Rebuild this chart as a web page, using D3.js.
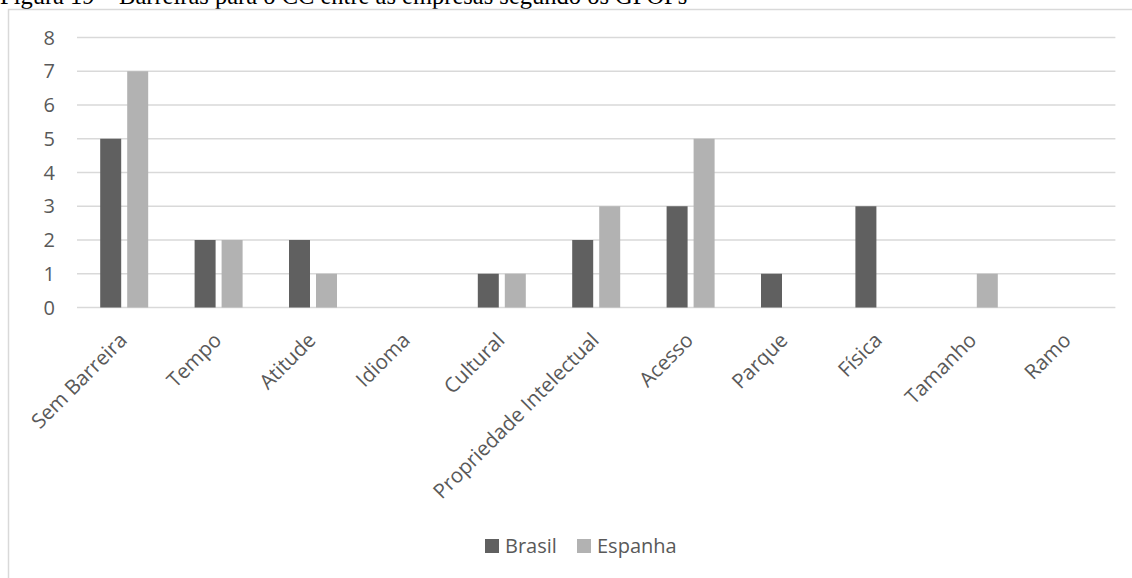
<!DOCTYPE html>
<html>
<head>
<meta charset="utf-8">
<script src="https://cdn.jsdelivr.net/npm/d3@7"></script>
<style>
  html, body { margin: 0; padding: 0; background: #fff; overflow: hidden; }
  svg { display: block; }
</style>
</head>
<body>
<svg id="chart" width="1132" height="578"></svg>
<script>
// Barreiras para o CC, por país
const categories = ["Sem Barreira", "Tempo", "Atitude", "Idioma", "Cultural",
  "Propriedade Intelectual", "Acesso", "Parque", "Física", "Tamanho", "Ramo"];
const brasil  = [5, 2, 2, 0, 1, 2, 3, 1, 3, 0, 0];
const espanha = [7, 2, 1, 0, 1, 3, 5, 0, 0, 1, 0];
const seriesNames = ["Brasil", "Espanha"];
const yTicks = [0, 1, 2, 3, 4, 5, 6, 7, 8];
const title = "Figura 19 – Barreiras para o CC entre as empresas segundo os GPOPs";

const colors = { Brasil: "#606060", Espanha: "#b2b2b2" };
const textColor = "#595959";
const gridColor = "#d9d9d9";
const font = "'Open Sans', 'DejaVu Sans', sans-serif";

const svg = d3.select("#chart");

// caption above the chart frame
svg.append("text")
  .attr("x", 0).attr("y", 4)
  .attr("font-family", "'Liberation Serif', 'Times New Roman', serif")
  .attr("font-size", 24.5)
  .attr("fill", "#000")
  .text(title);

// chart frame
svg.append("rect")
  .attr("x", 8.5).attr("y", 9.5)
  .attr("width", 1200).attr("height", 700)
  .attr("fill", "none")
  .attr("stroke", gridColor)
  .attr("stroke-width", 1.5);

const plot = { left: 77, right: 1115.4, top: 37.5, bottom: 307.5 };

const x = d3.scaleBand()
  .domain(categories)
  .range([plot.left, plot.right])
  .paddingInner(0).paddingOuter(0);

const y = d3.scaleLinear()
  .domain([0, 8])
  .range([plot.bottom, plot.top]);

const barW = 21, barGap = 6;
const xSeries = d3.scaleOrdinal()
  .domain(seriesNames)
  .range([-(barW + barGap / 2), barGap / 2]);

// gridlines
svg.append("g")
  .selectAll("line")
  .data(yTicks)
  .join("line")
  .attr("x1", plot.left).attr("x2", plot.right)
  .attr("y1", d => y(d)).attr("y2", d => y(d))
  .attr("stroke", gridColor)
  .attr("stroke-width", 1.5);

// y tick labels
svg.append("g")
  .selectAll("text")
  .data(yTicks)
  .join("text")
  .attr("x", 55)
  .attr("y", d => y(d))
  .attr("dy", "0.36em")
  .attr("text-anchor", "end")
  .attr("font-family", font)
  .attr("font-size", 20)
  .attr("fill", textColor)
  .text(d => d);

// bars
const rows = categories.map((c, i) => ({ c, Brasil: brasil[i], Espanha: espanha[i] }));
const groups = svg.append("g")
  .selectAll("g")
  .data(rows)
  .join("g")
  .attr("transform", d => `translate(${x(d.c) + x.bandwidth() / 2},0)`);

groups.selectAll("rect")
  .data(d => seriesNames.map(s => ({ s, v: d[s] })))
  .join("rect")
  .attr("x", d => xSeries(d.s))
  .attr("width", barW)
  .attr("y", d => y(d.v))
  .attr("height", d => y(0) - y(d.v))
  .attr("fill", d => colors[d.s]);

// category labels, rotated
svg.append("g")
  .selectAll("text")
  .data(categories)
  .join("text")
  .attr("transform", d => `translate(${x(d) + x.bandwidth() / 2 + 4},${plot.bottom + 34}) rotate(-45)`)
  .attr("text-anchor", "end")
  .attr("font-family", font)
  .attr("font-size", 20.5)
  .attr("fill", textColor)
  .text(d => d);

// legend
const legend = svg.append("g");
const legendItems = [
  { name: "Brasil", x: 485 },
  { name: "Espanha", x: 577 }
];
legendItems.forEach(item => {
  legend.append("rect")
    .attr("x", item.x).attr("y", 539)
    .attr("width", 14).attr("height", 14)
    .attr("fill", colors[item.name]);
  legend.append("text")
    .attr("x", item.x + 20).attr("y", 553)
    .attr("font-family", font)
    .attr("font-size", 20)
    .attr("fill", textColor)
    .text(item.name);
});
</script>
</body>
</html>
